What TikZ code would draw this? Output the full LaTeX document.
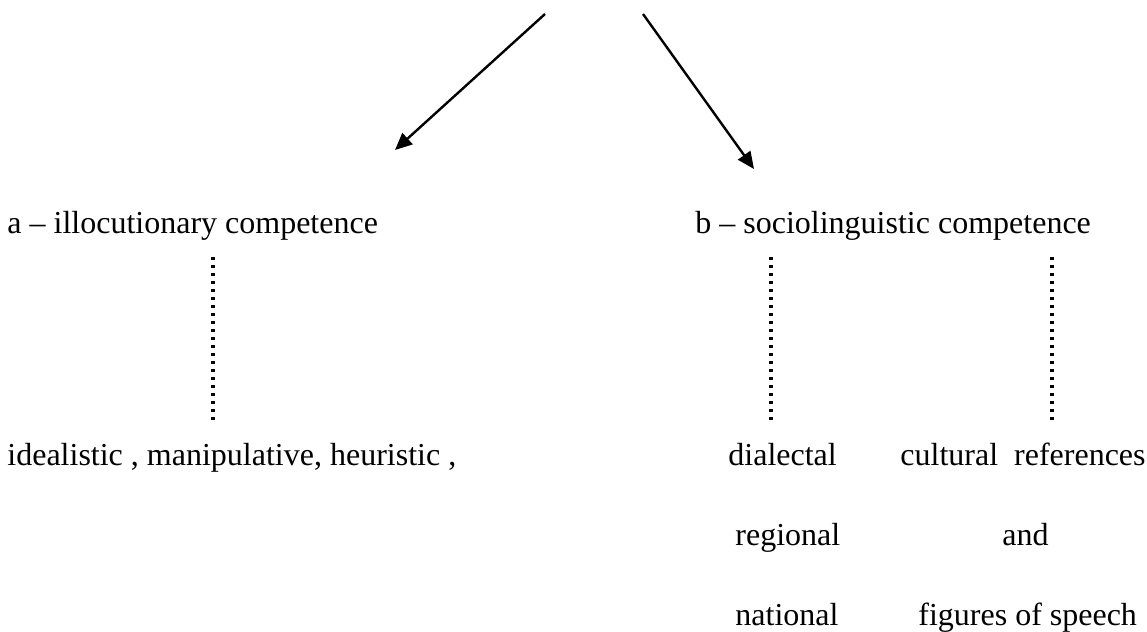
\documentclass[tikz,border=0pt]{standalone}
\usepackage{fontspec}
\setmainfont{Liberation Serif}
\usetikzlibrary{arrows.meta,positioning}

\begin{document}
\begin{tikzpicture}[
			x = 0.5pt, y = -0.5pt,
			every node/.style = {inner sep=0pt, anchor=base west, font=\fontsize{16}{20}\selectfont},
			branch/.style = {-{Triangle[length=8.5pt,width=7.5pt]}, line width=1.2pt},
			dots/.style = {line width=1.7pt, dash pattern=on 1.7pt off 2.3pt}
		]

		\useasboundingbox (0,0) rectangle (1147,632);

		% top arrows
		\coordinate (topL) at (545,14);
		\coordinate (topR) at (643,14);
		\coordinate (tipL) at (395,150);
		\coordinate (tipR) at (754,169);
		\draw[branch] (topL) -- (tipL);
		\draw[branch] (topR) -- (tipR);

		% competences
		\node (illoc) at (7,233) {a -- illocutionary competence};
		\node (socio) at (695,233) {b -- sociolinguistic competence};

		% functions
		\node (funcs) at (7,465) {idealistic , manipulative, heuristic ,};
		\node (dial) at (728,465) {dialectal};
		\node (reg) at (735,545) {regional};
		\node (nat) at (735,625) {national};
		\node (cult) at (900,465) {cultural\ \ references};
		\node (and) at (1002,545) {and};
		\node (figs) at (918,625) {figures of speech};

		% dotted links
		\draw[dots] (213,257) -- (213,420);
		\draw[dots] (771,257) -- (771,420);
		\draw[dots] (1052,257) -- (1052,420);

		\end{tikzpicture}
\end{document}
